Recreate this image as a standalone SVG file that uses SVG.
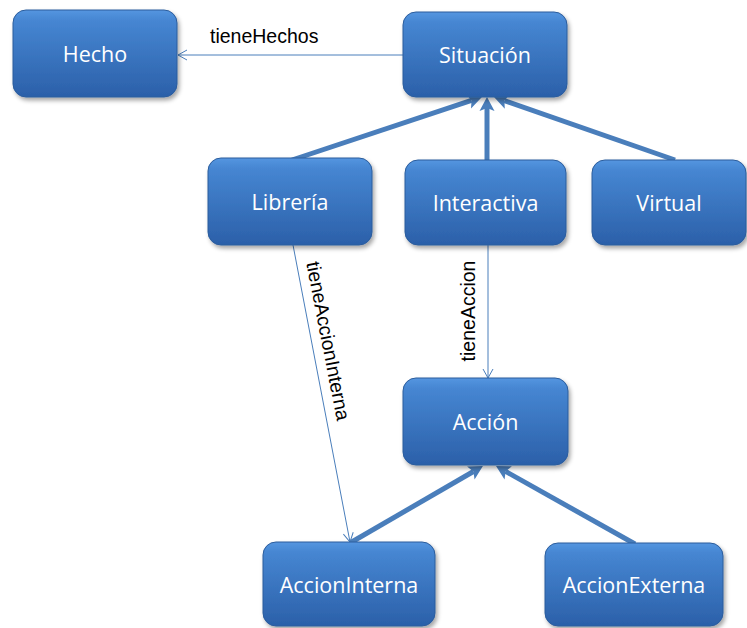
<svg xmlns="http://www.w3.org/2000/svg" width="747" height="628" viewBox="0 0 747 628">
  <defs>
    <linearGradient id="boxFill" x1="0" y1="0" x2="0" y2="1">
      <stop offset="0" stop-color="#5596e0"/>
      <stop offset="0.12" stop-color="#4686d2"/>
      <stop offset="1" stop-color="#2b60a9"/>
    </linearGradient>
    <filter id="shadow" x="-10%" y="-10%" width="125%" height="135%">
      <feDropShadow dx="2" dy="3" stdDeviation="2" flood-color="#000" flood-opacity="0.35"/>
    </filter>
    <!-- solid head for generalisation links -->
    <marker id="head" viewBox="-1 -9 17 18" refX="3" refY="0" markerWidth="17" markerHeight="18" markerUnits="userSpaceOnUse" orient="auto">
      <path d="M0,-7.5 L14,0 L0,7.5 L3,0 Z" fill="#4a7ebb"/>
    </marker>
    <!-- open head for named relations -->
    <marker id="open" viewBox="-11 -7 13 14" refX="0" refY="0" markerWidth="13" markerHeight="14" markerUnits="userSpaceOnUse" orient="auto">
      <path d="M-9,-5 L0,0 L-9,5" fill="none" stroke="#4a7ebb" stroke-width="1"/>
    </marker>
  </defs>
  <style>
    .box { fill: url(#boxFill); stroke: #2b5c9c; stroke-width: 1; filter: url(#shadow); }
    .lbl { font-family: "Open Sans", "Liberation Sans", sans-serif; font-size: 21.5px; fill: #ffffff; text-anchor: middle; }
    .isa { stroke: #4a7ebb; stroke-width: 5; fill: none; marker-end: url(#head); }
    .rel { stroke: #4a7ebb; stroke-width: 1; fill: none; marker-end: url(#open); }
    .rtxt { font-family: "Liberation Sans", Arial, sans-serif; font-size: 19.5px; fill: #000; }
  </style>

  <rect width="747" height="628" fill="#ffffff"/>

  <g id="connectors">
    <line class="isa" x1="292" y1="160" x2="471.5" y2="100.4"/>
    <line class="isa" x1="487" y1="160" x2="487" y2="108"/>
    <line class="isa" x1="675" y1="160" x2="504.4" y2="100.6"/>
    <line class="isa" x1="350" y1="543" x2="473.4" y2="471.5"/>
    <line class="isa" x1="635" y1="544" x2="505.6" y2="471.4"/>

    <line class="rel" x1="403" y1="55" x2="178" y2="55"/>
    <text class="rtxt" x="210" y="43">tieneHechos</text>

    <line class="rel" x1="488" y1="245" x2="488" y2="378"/>
    <text class="rtxt" transform="translate(468,311) rotate(-90)" x="0" y="6.5" text-anchor="middle">tieneAccion</text>

    <line class="rel" x1="293" y1="245" x2="350" y2="542"/>
    <text class="rtxt" transform="translate(328,341) rotate(79)" x="0" y="6.5" text-anchor="middle">tieneAccionInterna</text>
  </g>

  <g id="hecho">
    <rect class="box" x="13" y="10" width="164" height="87" rx="13"/>
    <text class="lbl" x="95" y="62">Hecho</text>
  </g>
  <g id="situacion">
    <rect class="box" x="403" y="12" width="164" height="85" rx="13"/>
    <text class="lbl" x="485" y="63">Situación</text>
  </g>
  <g id="libreria">
    <rect class="box" x="208" y="158" width="164" height="87" rx="13"/>
    <text class="lbl" x="290" y="210">Librería</text>
  </g>
  <g id="interactiva">
    <rect class="box" x="405" y="160" width="161" height="85" rx="13"/>
    <text class="lbl" x="485.5" y="211">Interactiva</text>
  </g>
  <g id="virtual">
    <rect class="box" x="592" y="160" width="154" height="85" rx="13"/>
    <text class="lbl" x="669" y="211">Virtual</text>
  </g>
  <g id="accion">
    <rect class="box" x="403" y="378" width="165" height="87" rx="13"/>
    <text class="lbl" x="485.5" y="430">Acción</text>
  </g>
  <g id="accionInterna">
    <rect class="box" x="263" y="542" width="172" height="84" rx="13"/>
    <text class="lbl" x="349" y="593">AccionInterna</text>
  </g>
  <g id="accionExterna">
    <rect class="box" x="545" y="543" width="178" height="83" rx="13"/>
    <text class="lbl" x="634" y="593">AccionExterna</text>
  </g>
</svg>
